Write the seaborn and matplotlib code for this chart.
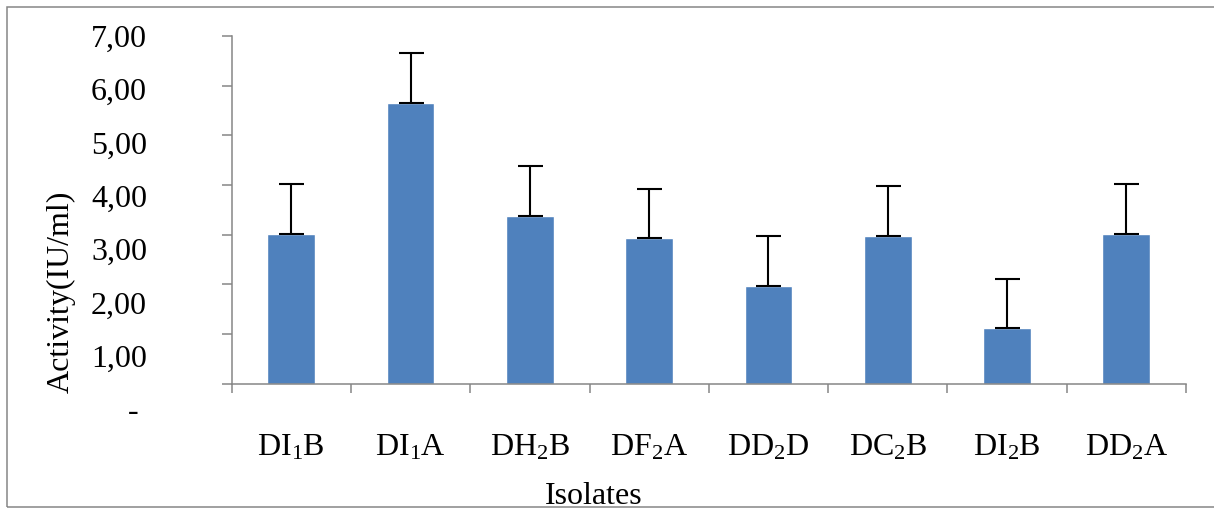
import numpy as np
import pandas as pd
import matplotlib
matplotlib.use("Agg")
import matplotlib.pyplot as plt
import seaborn as sns
from matplotlib.patches import Rectangle

# ---- data ----
isolates = ["DI1B", "DI1A", "DH2B", "DF2A", "DD2D", "DC2B", "DI2B", "DD2A"]
isolate_labels = [r"DI$_\mathregular{1}$B", r"DI$_\mathregular{1}$A", r"DH$_\mathregular{2}$B",
                  r"DF$_\mathregular{2}$A", r"DD$_\mathregular{2}$D", r"DC$_\mathregular{2}$B",
                  r"DI$_\mathregular{2}$B", r"DD$_\mathregular{2}$A"]
activity = [3.01, 5.66, 3.38, 2.93, 1.97, 2.97, 1.12, 3.01]
error_plus = [1.00, 0.99, 1.01, 0.99, 1.00, 1.00, 0.99, 1.00]
y_tick_values = [0, 1, 2, 3, 4, 5, 6, 7]
y_tick_labels = ["- ", "1,00", "2,00", "3,00", "4,00", "5,00", "6,00", "7,00"]

BAR = "#4F81BD"
GRAY = "#868686"
FS = 23

sns.set_style("white")
plt.rcParams["font.family"] = ["Liberation Serif", "DejaVu Serif"]
plt.rcParams["mathtext.fontset"] = "custom"
plt.rcParams["mathtext.rm"] = "Liberation Serif"
plt.rcParams["mathtext.it"] = "Liberation Serif:italic"
plt.rcParams["mathtext.bf"] = "Liberation Serif:bold"

W, H = 1214, 508
fig, ax = plt.subplots(figsize=(W / 100, H / 100), dpi=100)
fig.subplots_adjust(left=231.7 / W, right=1186 / W, bottom=1 - 383.5 / H, top=1 - 36 / H)

df = pd.DataFrame({"Isolate": isolates, "Activity": activity})
sns.barplot(data=df, x="Isolate", y="Activity", color=BAR, saturation=1,
            width=0.4, errorbar=None, ax=ax, zorder=2)

centers = [p.get_x() + p.get_width() / 2 for p in ax.patches]
heights = [p.get_height() for p in ax.patches]
n = len(isolates)
ax.errorbar(centers, heights, yerr=[np.zeros(n), error_plus], fmt="none",
            ecolor="black", elinewidth=1.5, capsize=9, capthick=1.5, zorder=3)

ax.set_ylim(0, 7)
ax.set_xlim(-0.5, n - 0.5)

# y ticks (labels drawn separately, spaced as in the reference)
ax.set_yticks(y_tick_values)
ax.tick_params(axis="y", left=True, labelleft=False, length=7.2, width=1.1,
               color=GRAY, direction="out")
label_fracs = np.linspace(-0.0745, 1.0014, len(y_tick_values))
for lab, f in zip(y_tick_labels, label_fracs):
    ax.text(-0.0888, f, lab, transform=ax.transAxes, ha="right",
            va="center_baseline", fontsize=FS, color="black")

# x ticks at category boundaries, labels at centers
ax.set_xticks(np.arange(n + 1) - 0.5)
ax.set_xticks(np.arange(n), minor=True)
ax.set_xticklabels(isolate_labels, minor=True, fontsize=FS)
ax.tick_params(axis="x", which="major", bottom=True, labelbottom=False,
               length=6.5, width=1.1, color=GRAY, direction="out")
ax.tick_params(axis="x", which="minor", bottom=True, length=0, pad=36,
               labelsize=FS, labelcolor="black")

for s in ["top", "right"]:
    ax.spines[s].set_visible(False)
for s in ["left", "bottom"]:
    ax.spines[s].set_color(GRAY)
    ax.spines[s].set_linewidth(1.1)

ax.set_ylabel("Activity(IU/ml)", fontsize=FS, color="black")
ax.yaxis.set_label_coords(-0.179, 0.263)
ax.yaxis.label.set_va("center")
ax.set_xlabel("Isolates", fontsize=FS, color="black")
ax.xaxis.set_label_coords(0.3791, -0.283)

fig.add_artist(Rectangle((6.5 / W, 1.3 / H), 1.0, (H - 6.5 - 1.3) / H,
                         transform=fig.transFigure, fill=False,
                         edgecolor=GRAY, lw=1.1, zorder=10))

fig.savefig("out.png", dpi=100)
